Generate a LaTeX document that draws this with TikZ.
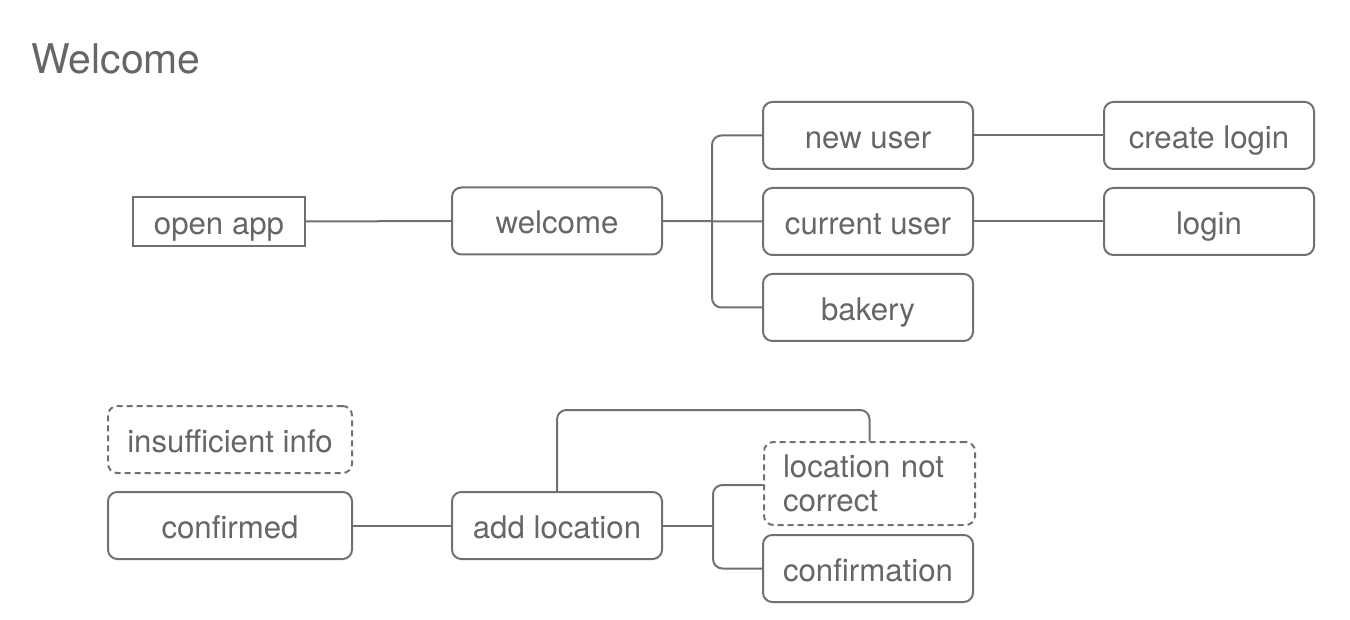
\documentclass[tikz,border=0pt]{standalone}
\usepackage{fontspec}
\setmainfont{TeX Gyre Heros}
\definecolor{ln}{HTML}{707070}
\definecolor{tx}{HTML}{666666}
\tikzset{
  base/.style={draw=ln, line width=1.5pt, text=tx, inner sep=0pt, font=\fontsize{23.4}{26}\selectfont, text height=19pt, text depth=0pt},
  box/.style={base, rounded corners=7pt, minimum width=157.5pt, minimum height=50.25pt},
  widebox/.style={box, minimum width=183pt},
  dashbox/.style={dash pattern=on 4.5pt off 3pt},
  conn/.style={draw=ln, line width=1.5pt},
}
\begin{document}
\begin{tikzpicture}[x=0.75pt,y=-0.75pt]
\path[use as bounding box] (0,0) rectangle (1350,620);
\node[text=tx, inner sep=0pt, anchor=base west, font=\fontsize{30.7}{36}\selectfont] (title) at (31,74) {Welcome};

\node[base, minimum width=129pt, minimum height=36.75pt] (openapp) at (219,221.5) {open app};
\node[box] (welcome) at (557,221) {welcome};
\node[box] (newuser) at (868,135.5) {new user};
\node[box] (curuser) at (868,221.5) {current user};
\node[box] (bakery) at (868,307.5) {bakery};
\node[box] (createlogin) at (1209,135.5) {create login};
\node[box] (login) at (1209,221.5) {login};

\node[widebox, dashbox] (insuff) at (230,439.5) {insufficient info};
\node[widebox] (confirmed) at (230,525.5) {confirmed};
\node[box] (addloc) at (557,525.5) {add location};
\node[box, dashbox, text height=, text depth=, minimum width=158.25pt, minimum height=62.25pt, align=left, text width=129.75pt, inner xsep=14.25pt] (locnc) at (869.5,483.5) {location not\\correct};
\node[box] (confirmation) at (868,568.5) {confirmation};

\coordinate (j1) at (712,221);
\coordinate (j2) at (713,525.5);
\coordinate (top) at (700,410);

\draw[conn] (openapp.east) -- (welcome.west);
\draw[conn] (welcome.east) -- (curuser.west);
\draw[conn, rounded corners=7pt] (newuser.west) -| (j1) |- (bakery.west);
\draw[conn] (newuser.east) -- (createlogin.west);
\draw[conn] (curuser.east) -- (login.west);

\draw[conn] (confirmed.east) -- (addloc.west);
\draw[conn] (addloc.east) -- (j2);
\draw[conn, rounded corners=7pt] (locnc.west |- 0,485) -| (j2) |- (confirmation.west);
\draw[conn, rounded corners=7pt] (addloc.north) |- (top) -| (locnc.north);
\end{tikzpicture}
\end{document}
